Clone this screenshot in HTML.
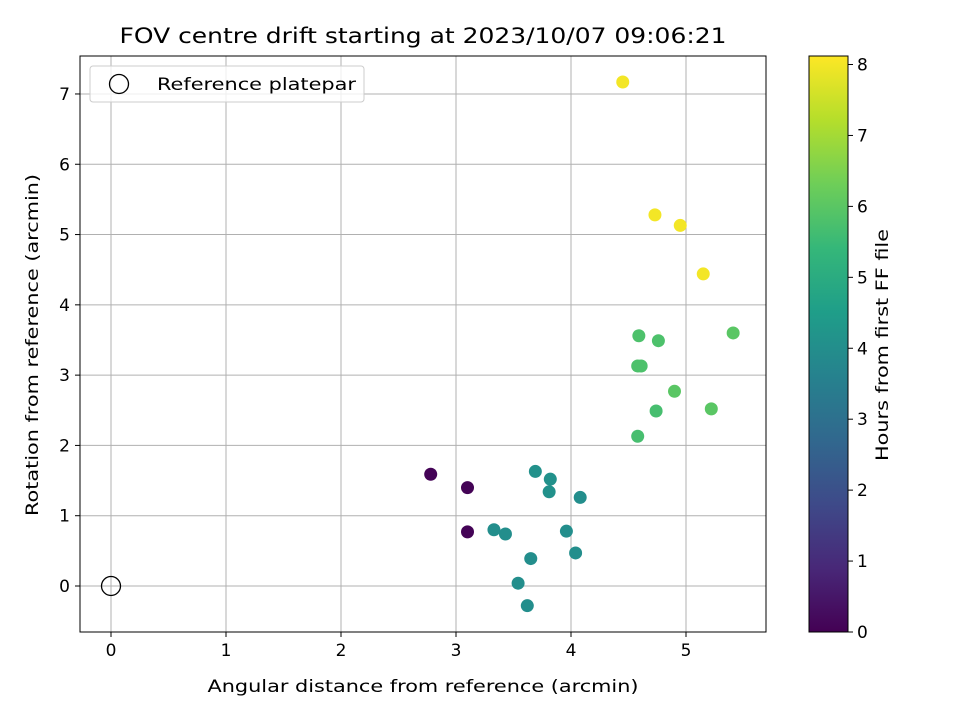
<!DOCTYPE html>
<html><head><meta charset="utf-8"><style>
body{margin:0;background:#fff;font-family:"Liberation Sans","DejaVu Sans",sans-serif}
svg text{font-family:"DejaVu Sans","Liberation Sans",sans-serif;fill:#000}
</style></head><body>
<svg id="c" width="960" height="720" xmlns="http://www.w3.org/2000/svg"></svg>
<script>
const xs=[2.78,3.10,3.10,3.33,3.43,3.54,3.62,3.65,3.69,3.81,3.82,3.96,4.04,4.08,4.58,4.58,4.61,4.59,4.74,4.76,4.90,5.22,5.41,4.45,4.73,4.95,5.15];
const ys=[1.59,1.40,0.77,0.80,0.74,0.04,-0.28,0.39,1.63,1.34,1.52,0.78,0.47,1.26,2.13,3.13,3.13,3.56,2.49,3.49,2.77,2.52,3.60,7.17,5.28,5.13,4.44];
const hours=[0.05,0.05,0.05,4.0,4.0,4.0,4.0,4.0,4.1,4.1,4.1,4.0,4.0,4.0,5.7,5.8,5.8,5.8,5.7,5.8,6.0,6.0,6.0,8.0,8.0,8.0,8.0];
const xTicks=[0,1,2,3,4,5];
const yTicks=[0,1,2,3,4,5,6,7];
const cTicks=[0,1,2,3,4,5,6,7,8];
const NS="http://www.w3.org/2000/svg",svg=document.getElementById('c');
const L=80,R=766,T=56,B=632;
const X=v=>111+(v)*115, Y=v=>586-v*70.29;
const CT=56,CB=632,CX=809,CW=39,CMAX=8.12;
const CY=v=>CB-(v/CMAX)*(CB-CT);
const vstops=[[68,1,84],[72,40,120],[62,74,137],[49,104,142],[38,130,142],[31,158,137],[53,183,121],[110,206,88],[181,222,43],[253,231,37]];
function viridis(t){t=Math.max(0,Math.min(1,t))*(vstops.length-1);const i=Math.min(Math.floor(t),vstops.length-2),f=t-i;const a=vstops[i],b=vstops[i+1];return `rgb(${a.map((v,k)=>Math.round(v+(b[k]-v)*f)).join(',')})`;}
function el(tag,attrs,name,inter){const e=document.createElementNS(NS,tag);for(const k in attrs)e.setAttribute(k,attrs[k]);


svg.appendChild(e);return e;}
function txt(x,y,s,name,anchor,size,extra){const t=el('text',Object.assign({x:x,y:y,'text-anchor':anchor||'middle','font-size':size||17},extra||{}),name);t.textContent=s;return t;}
xTicks.forEach(v=>{el('line',{x1:X(v),x2:X(v),y1:T,y2:B,stroke:'#b0b0b0','stroke-width':1},'x-grid-line');
el('line',{x1:X(v),x2:X(v),y1:B,y2:B+5,stroke:'#000'},'x-tick');
txt(X(v),B+24,String(v),'x-tick-label');});
yTicks.forEach(v=>{el('line',{x1:L,x2:R,y1:Y(v),y2:Y(v),stroke:'#b0b0b0','stroke-width':1},'y-grid-line');
el('line',{x1:L-5,x2:L,y1:Y(v),y2:Y(v),stroke:'#000'},'y-tick');
txt(L-10,Y(v)+6,String(v),'y-tick-label','end');});
el('circle',{cx:X(0),cy:Y(0),r:9.5,fill:'none',stroke:'#000','stroke-width':1.3},'reference-platepar-marker');
xs.forEach((x,i)=>{el('circle',{cx:X(x),cy:Y(ys[i]),r:6.5,fill:viridis(hours[i]/CMAX)},'drift-point');});
el('rect',{x:L,y:T,width:R-L,height:B-T,fill:'none',stroke:'#000','stroke-width':1},'plot-frame');
el('rect',{x:90,y:66,width:274,height:36,rx:3,fill:'#fff','fill-opacity':0.8,stroke:'#ccc'},'legend-box');
el('circle',{cx:119,cy:84,r:9.5,fill:'none',stroke:'#000','stroke-width':1.3},'legend-marker');
txt(157,90,'Reference platepar','legend-label','start',17,{textLength:199,lengthAdjust:'spacingAndGlyphs'});
txt(423,43,'FOV centre drift starting at 2023/10/07 09:06:21','chart-title','middle',21,{textLength:607,lengthAdjust:'spacingAndGlyphs'});
txt(423,692,'Angular distance from reference (arcmin)','x-axis-title','middle',17,{textLength:431,lengthAdjust:'spacingAndGlyphs'});
txt(38,345,'Rotation from reference (arcmin)','y-axis-title','middle',17,{transform:'rotate(-90 38 345)',textLength:342,lengthAdjust:'spacingAndGlyphs'});
const g=el('defs',{},'colorbar-defs');
const lg=document.createElementNS(NS,'linearGradient');lg.setAttribute('id','vg');lg.setAttribute('x1','0');lg.setAttribute('y1','1');lg.setAttribute('x2','0');lg.setAttribute('y2','0');
vstops.forEach((s,i)=>{const st=document.createElementNS(NS,'stop');st.setAttribute('offset',i/(vstops.length-1));st.setAttribute('stop-color',`rgb(${s.join(',')})`);lg.appendChild(st);});
g.appendChild(lg);
el('rect',{x:CX,y:CT,width:CW,height:CB-CT,fill:'url(#vg)',stroke:'#000','stroke-width':1},'colorbar');
cTicks.forEach(v=>{el('line',{x1:CX+CW,x2:CX+CW+5,y1:CY(v),y2:CY(v),stroke:'#000'},'colorbar-tick');
txt(CX+CW+9,CY(v)+6,String(v),'colorbar-tick-label','start');});
txt(888,345,'Hours from first FF file','colorbar-title','middle',17,{transform:'rotate(-90 888 345)',textLength:232,lengthAdjust:'spacingAndGlyphs'});
</script>
</body></html>
